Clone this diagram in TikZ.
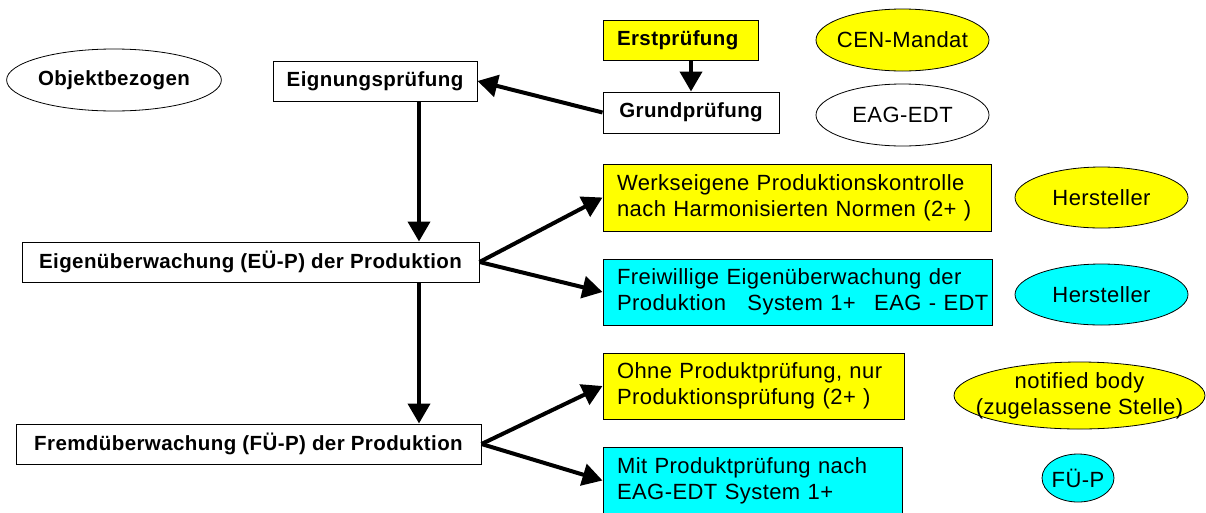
\documentclass[tikz,border=0pt]{standalone}
\usepackage{fontspec}
\setmainfont{Liberation Sans}
\newfontfamily\spacedfont[LetterSpace=2]{Liberation Sans}
\usetikzlibrary{shapes.geometric,arrows.meta}
\definecolor{markyellow}{RGB}{255,255,0}
\definecolor{markcyan}{RGB}{0,255,255}

\begin{document}
\begin{tikzpicture}[
  x=1pt, y=-1pt,
  stage/.style={draw, line width=1pt, inner sep=0pt, minimum height=40pt,
    font=\spacedfont\bfseries\fontsize{20.5}{24}\selectfont},
  rule/.style={draw, line width=1pt, inner xsep=14pt, inner ysep=0pt, minimum height=66pt,
    align=left, font=\spacedfont\fontsize{22}{26}\selectfont},
  actor/.style={ellipse, draw, line width=0.8pt, inner xsep=-15pt, inner ysep=-8pt, align=center,
    font=\spacedfont\fontsize{22}{26}\selectfont},
  flow/.style={line width=4pt, -{Triangle[length=20pt,width=22pt]}}
]
  \useasboundingbox (0,0) rectangle (1206,512);

  % left column
  \node[stage, ellipse, line width=0.8pt, minimum width=204pt, minimum height=62pt] (objekt) at (114,80) {Objektbezogen};
  \node[stage, minimum width=204pt] (eignung) at (375,81) {Eignungsprüfung};
  \node[stage, minimum width=457pt] (eigen) at (250.5,262) {Eigenüberwachung (EÜ-P) der Produktion};
  \node[stage, minimum width=465pt] (fremd) at (248.5,444) {Fremdüberwachung (FÜ-P) der Produktion};

  % first tests
  \node[stage, fill=markyellow, inner xsep=14pt, text width=127pt, align=left] (erst) at (680.5,40) {Erstprüfung};
  \node[stage, minimum width=176pt, minimum height=41pt] (grund) at (691,112.5) {Grundprüfung};

  % monitoring
  \node[rule, fill=markyellow, text width=360pt, minimum height=67pt] (werk) at (797,197.5)
    {Werkseigene Produktionskontrolle\\nach Harmonisierten Normen (2+ )};
  \node[rule, fill=markcyan, text width=361pt] (frei) at (797.5,292)
    {Freiwillige Eigenüberwachung der\\\mbox{Produktion\hspace{14pt} System 1+\hspace{11pt} EAG - EDT}};
  \node[rule, fill=markyellow, text width=273pt] (ohne) at (753.5,386)
    {Ohne Produktprüfung, nur\\Produktionsprüfung (2+ )};
  \node[rule, fill=markcyan, text width=271pt, minimum height=67pt] (mit) at (752.5,480.5)
    {Mit Produktprüfung nach\\EAG-EDT System 1+};

  % who is responsible
  \node[actor, fill=markyellow, minimum width=173pt, minimum height=62pt] (cen) at (902.5,40) {CEN-Mandat};
  \node[actor, minimum width=173pt, minimum height=62pt] (eag) at (902.5,115) {EAG-EDT};
  \node[actor, fill=markyellow, minimum width=173pt, minimum height=61pt] (herstA) at (1101.5,197.5) {Hersteller};
  \node[actor, fill=markcyan, minimum width=173pt, minimum height=61pt] (herstB) at (1101.5,294.5) {Hersteller};
  \node[actor, fill=markyellow, minimum width=251pt, minimum height=67pt] (notified) at (1079.5,395.5)
    {notified body\\(zugelassene Stelle)};
  \node[actor, fill=markcyan, minimum width=72pt, minimum height=48pt] (fuep) at (1078,478) {FÜ-P};

  % arrows
  \coordinate (trunk) at ([xshift=44pt]eignung.south);
  \draw[flow] (trunk) -- (trunk |- eigen.north);
  \draw[flow] (trunk |- eigen.south) -- (trunk |- fremd.north);
  \draw[flow] (erst.south -| grund.north) -- (grund.north);
  \draw[flow] (grund.west) -- (eignung.east);
  \draw[flow] (eigen.east) -- (werk.west);
  \draw[flow] (eigen.east) -- (frei.west);
  \draw[flow] (fremd.east) -- (ohne.west);
  \draw[flow] (fremd.east) -- (mit.west);
\end{tikzpicture}
\end{document}
